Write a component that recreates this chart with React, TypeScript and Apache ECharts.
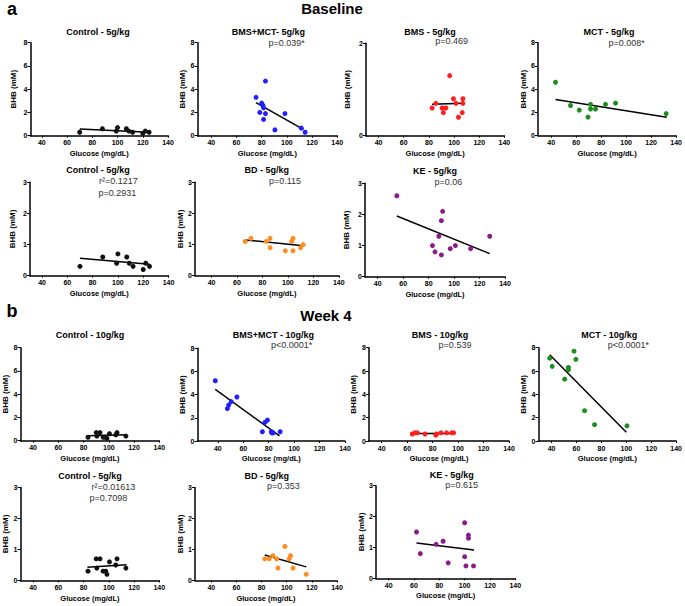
import React, { useEffect, useRef } from "react";
import * as echarts from "echarts";

type Pt = [number, number];

// ---------- tick labels ----------
const xTickValues = [40, 60, 80, 100, 120, 140];
const xName = "Glucose (mg/dL)";
const yName = "BHB (mM)";

// ---------- data: Baseline ----------
const ctrlBase: Pt[] = [[70, 0.3], [88, 0.6], [100, 0.7], [99, 0.4], [107, 0.6], [109, 0.4], [112, 0.3], [120, 0.2], [122, 0.4], [125, 0.3]];
const ctrlBaseFitA: Pt[] = [[70, 0.58], [125, 0.3]];
const ctrlBaseFitB: Pt[] = [[70, 0.56], [125, 0.37]];

const bmsMct5: Pt[] = [[75.5, 3.3], [83, 4.7], [80, 2.8], [81, 2.6], [81.5, 2.4], [78.5, 2.0], [83, 1.9], [81.5, 1.4], [98.5, 1.9], [90.5, 0.5], [111.5, 0.65], [114.5, 0.3]];
const bmsMct5Fit: Pt[] = [[75.5, 2.85], [113, 0.55]];

const bms5: Pt[] = [[96.5, 1.3], [82.5, 0.6], [85.5, 0.7], [90.5, 0.6], [93.5, 0.6], [91.5, 0.5], [99.5, 0.8], [101.5, 0.7], [107, 0.8], [107, 0.7], [106.5, 0.5], [103.5, 0.4]];
const bms5Fit: Pt[] = [[82.5, 0.68], [107, 0.7]];

const mct5: Pt[] = [[43.5, 4.6], [55.5, 2.6], [62.5, 2.2], [69.5, 1.6], [71.5, 2.7], [71.5, 2.3], [75.5, 2.3], [83.5, 2.7], [91.5, 2.8], [132, 1.9]];
const mct5Fit: Pt[] = [[43.5, 3.12], [132.5, 1.58]];

const bd5: Pt[] = [[66.5, 1.1], [71, 1.2], [83, 1.1], [86, 1.2], [86, 0.9], [98, 0.8], [103, 1.1], [104, 1.2], [104, 0.8], [110, 0.9], [112, 1.0]];
const bd5Fit: Pt[] = [[66.5, 1.15], [112, 0.96]];

const ke5: Pt[] = [[55, 2.6], [91, 2.1], [90, 1.8], [88, 1.3], [83, 1.0], [85, 0.8], [90, 0.7], [97, 0.9], [101, 1.0], [113, 0.9], [128, 1.3]];
const ke5Fit: Pt[] = [[55, 1.95], [128, 0.74]];

// ---------- data: Week 4 ----------
const ctrlW4: Pt[] = [[83.5, 0.3], [90, 0.7], [93, 0.7], [90.5, 0.4], [95.5, 0.3], [97.5, 0.3], [98.5, 0.2], [100.5, 0.6], [105.5, 0.5], [106.5, 0.7], [113.5, 0.4]];
const ctrlW4Fit: Pt[] = [[83, 0.43], [114, 0.51]];

const bmsMct10: Pt[] = [[38, 5.2], [55, 3.8], [50.5, 3.4], [48.5, 3.1], [47.5, 2.8], [77, 1.6], [79, 1.8], [75, 0.8], [82, 0.8], [83.5, 0.7], [89, 0.8], [82.5, 0.7]];
const bmsMct10Fit: Pt[] = [[38, 4.45], [88.5, 0.45]];

const bms10: Pt[] = [[64, 0.6], [66, 0.7], [68, 0.7], [74, 0.6], [82.5, 0.5], [83, 0.6], [86.5, 0.7], [91, 0.7], [95, 0.7], [96.5, 0.7]];
const bms10Fit: Pt[] = [[64.5, 0.65], [97.5, 0.65]];

const mct10: Pt[] = [[38.5, 7.1], [40.5, 6.4], [58, 7.7], [59.5, 7.0], [53.5, 6.3], [53.5, 6.1], [50.5, 5.3], [66.5, 2.6], [74.5, 1.4], [100.5, 1.3]];
const mct10Fit: Pt[] = [[38.5, 7.4], [100, 0.75]];

const bdW4: Pt[] = [[82.5, 0.7], [86, 0.7], [89, 0.8], [92, 0.7], [93, 0.4], [98.5, 1.1], [102, 0.7], [103, 0.8], [105, 0.4], [115.5, 0.2]];
const bdW4Fit: Pt[] = [[82.5, 0.82], [115.5, 0.44]];

const keW4: Pt[] = [[62, 1.5], [65, 0.8], [77.5, 1.1], [83, 1.2], [87, 0.5], [100, 1.8], [103, 1.4], [103, 1.3], [100, 0.7], [101, 0.4], [107, 0.4]];
const keW4Fit: Pt[] = [[62, 1.14], [107.5, 0.92]];

// ---------- colours ----------
const BLACK = "#111111";
const BLUE = "#1f1fff";
const RED = "#ff1f1f";
const GREEN = "#1f8c1f";
const ORANGE = "#ff8c1f";
const PURPLE = "#8c1a8c";

// ---------- panel layout ----------
interface Panel {
  left: number; right: number; top: number; bottom: number;
  xMin: number; yMax: number; yInterval: number;
  data: Pt[]; fit: Pt[]; color: string; nameGap: number;
}

const panels: Panel[] = [
  // Row 1
  { left: 30.5, right: 168, top: 42.7, bottom: 135.7, xMin: 31, yMax: 8, yInterval: 2, data: ctrlBase, fit: ctrlBaseFitA, color: BLACK, nameGap: 13.5 },
  { left: 197.5, right: 337.2, top: 42.7, bottom: 135.7, xMin: 29, yMax: 8, yInterval: 2, data: bmsMct5, fit: bmsMct5Fit, color: BLUE, nameGap: 10.5 },
  { left: 366, right: 504.4, top: 43.3, bottom: 135.7, xMin: 30, yMax: 2, yInterval: 2, data: bms5, fit: bms5Fit, color: RED, nameGap: 14.5 },
  { left: 538, right: 678, top: 42.7, bottom: 135.7, xMin: 29.5, yMax: 8, yInterval: 2, data: mct5, fit: mct5Fit, color: GREEN, nameGap: 10.5 },
  // Row 2
  { left: 30, right: 168.5, top: 182.3, bottom: 275.7, xMin: 30.5, yMax: 3, yInterval: 1, data: ctrlBase, fit: ctrlBaseFitB, color: BLACK, nameGap: 13.5 },
  { left: 195, right: 338.8, top: 182.3, bottom: 275.7, xMin: 27, yMax: 3, yInterval: 1, data: bd5, fit: bd5Fit, color: ORANGE, nameGap: 8 },
  { left: 365, right: 505, top: 183.3, bottom: 276.7, xMin: 30, yMax: 3, yInterval: 1, data: ke5, fit: ke5Fit, color: PURPLE, nameGap: 14.5 },
  // Row 3
  { left: 20.5, right: 159.3, top: 347.7, bottom: 440.7, xMin: 30, yMax: 8, yInterval: 2, data: ctrlW4, fit: ctrlW4Fit, color: BLACK, nameGap: 11.5 },
  { left: 197.5, right: 345, top: 348.3, bottom: 441, xMin: 24, yMax: 8, yInterval: 2, data: bmsMct10, fit: bmsMct10Fit, color: BLUE, nameGap: 9.5 },
  { left: 369, right: 509, top: 347.7, bottom: 441, xMin: 30, yMax: 8, yInterval: 2, data: bms10, fit: bms10Fit, color: RED, nameGap: 11.5 },
  { left: 538.5, right: 679, top: 347.7, bottom: 441, xMin: 29.5, yMax: 8, yInterval: 2, data: mct10, fit: mct10Fit, color: GREEN, nameGap: 10 },
  // Row 4
  { left: 20.5, right: 159.3, top: 487.5, bottom: 580.5, xMin: 30, yMax: 3, yInterval: 1, data: ctrlW4, fit: ctrlW4Fit, color: BLACK, nameGap: 11.5 },
  { left: 195, right: 337, top: 487.5, bottom: 580.5, xMin: 27, yMax: 3, yInterval: 1, data: bdW4, fit: bdW4Fit, color: ORANGE, nameGap: 8 },
  { left: 376, right: 515.3, top: 485.7, bottom: 578.3, xMin: 30, yMax: 3, yInterval: 1, data: keW4, fit: keW4Fit, color: PURPLE, nameGap: 11 },
];

// ---------- texts ----------
const panelTitles: [string, number, number][] = [
  ["Control - 5g/kg", 98, 31.5],
  ["BMS+MCT- 5g/kg", 268.3, 31.5],
  ["BMS - 5g/kg", 430, 31.5],
  ["MCT - 5g/kg", 609, 31.5],
  ["Control - 5g/kg", 98, 170],
  ["BD - 5g/kg", 266.7, 170],
  ["KE - 5g/kg", 435, 171],
  ["Control - 10g/kg", 90, 335],
  ["BMS+MCT - 10g/kg", 273.3, 335],
  ["BMS - 10g/kg", 440, 334.5],
  ["MCT - 10g/kg", 609.3, 335],
  ["Control - 5g/kg", 90, 475.7],
  ["BD - 5g/kg", 266.7, 475.7],
  ["KE - 5g/kg", 451.7, 474.5],
];

const statTexts: [string, number, number][] = [
  ["p=0.039*", 286.7, 42.5],
  ["p=0.469", 451.7, 41],
  ["p=0.008*", 626.7, 42.5],
  ["r²=0.1217", 118.3, 181],
  ["p=0.2931", 117.3, 192.7],
  ["p=0.115", 285, 180.7],
  ["p=0.06", 448.3, 181.5],
  ["p<0.0001*", 291.7, 345],
  ["p=0.539", 455, 345],
  ["p<0.0001*", 628.3, 345],
  ["r²=0.01613", 113.3, 486.7],
  ["p=0.7098", 108.3, 497.7],
  ["p=0.353", 283.3, 485.5],
  ["p=0.615", 461.7, 484.5],
];

const sectionLabels: [string, number, number][] = [
  ["a", 12, 9],
  ["b", 12, 311],
];
const sectionHeaders: [string, number, number][] = [
  ["Baseline", 332, 8],
  ["Week 4", 326, 315],
];

const FONT = '"Liberation Sans", Arial, Helvetica, sans-serif';

export default function App() {
  const ref = useRef<HTMLDivElement>(null);

  useEffect(() => {
    if (!ref.current) return;
    const chart = echarts.init(ref.current, undefined, { renderer: "svg" });

    const grid = panels.map((p) => ({
      left: p.left,
      top: p.top,
      width: p.right - p.left,
      height: p.bottom - p.top,
      containLabel: false,
    }));

    const xAxis = panels.map((p, i) => ({
      type: "value" as const,
      gridIndex: i,
      min: p.xMin,
      max: 140,
      name: xName,
      nameLocation: "middle" as const,
      nameGap: 13.5,
      nameTextStyle: { fontFamily: FONT, fontSize: 7.5, fontWeight: "bold", color: "#000" },
      axisLine: { show: true, onZero: false, lineStyle: { color: "#000", width: 1.5 } },
      axisTick: { show: true, length: 2, customValues: xTickValues, lineStyle: { color: "#000", width: 1 } },
      axisLabel: { customValues: xTickValues, fontFamily: FONT, fontSize: 7, fontWeight: "bold", color: "#000", margin: 3.5 },
      splitLine: { show: false },
    }));

    const yAxis = panels.map((p, i) => ({
      type: "value" as const,
      gridIndex: i,
      min: 0,
      max: p.yMax,
      interval: p.yInterval,
      name: yName,
      nameLocation: "middle" as const,
      nameRotate: 90,
      nameGap: p.nameGap,
      nameTextStyle: { fontFamily: FONT, fontSize: 8, fontWeight: "bold", color: "#000" },
      axisLine: { show: true, onZero: false, lineStyle: { color: "#000", width: 1.5 } },
      axisTick: { show: true, length: 3, lineStyle: { color: "#000", width: 1 } },
      axisLabel: { fontFamily: FONT, fontSize: 7, fontWeight: "bold", color: "#000", margin: 3 },
      splitLine: { show: false },
    }));

    const series: any[] = [];
    panels.forEach((p, i) => {
      series.push({
        type: "line",
        xAxisIndex: i,
        yAxisIndex: i,
        data: p.fit,
        symbol: "none",
        lineStyle: { color: "#000", width: 1.5 },
        silent: true,
        z: 2,
      });
      series.push({
        type: "scatter",
        xAxisIndex: i,
        yAxisIndex: i,
        data: p.data,
        symbolSize: 5,
        itemStyle: { color: p.color, opacity: 1 },
        silent: true,
        z: 3,
      });
    });

    const graphic: any[] = [];
    panelTitles.forEach(([t, x, y]) =>
      graphic.push({
        type: "text", x, y,
        style: { text: t, fontFamily: FONT, fontSize: 9, fontWeight: "bold", fill: "#000", align: "center", verticalAlign: "middle" },
      })
    );
    statTexts.forEach(([t, x, y]) =>
      graphic.push({
        type: "text", x, y,
        style: { text: t, fontFamily: FONT, fontSize: 9, fontWeight: "normal", fill: "#333", align: "center", verticalAlign: "middle" },
      })
    );
    sectionLabels.forEach(([t, x, y]) =>
      graphic.push({
        type: "text", x, y,
        style: { text: t, fontFamily: FONT, fontSize: 18, fontWeight: "bold", fill: "#000", align: "center", verticalAlign: "middle" },
      })
    );
    sectionHeaders.forEach(([t, x, y]) =>
      graphic.push({
        type: "text", x, y,
        style: { text: t, fontFamily: FONT, fontSize: 15, fontWeight: "bold", fill: "#000", align: "center", verticalAlign: "middle" },
      })
    );

    chart.setOption({
      animation: false,
      backgroundColor: "#fff",
      grid,
      xAxis,
      yAxis,
      series,
      graphic,
    });

    return () => chart.dispose();
  }, []);

  return (
    <div
      ref={ref}
      style={{ position: "fixed", left: 0, top: 0, width: 685, height: 606, background: "#fff" }}
    />
  );
}
